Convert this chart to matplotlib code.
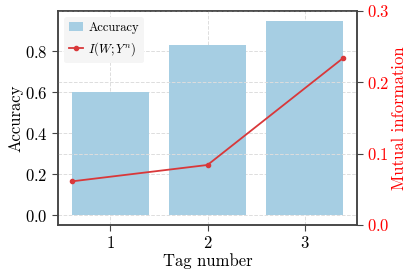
import numpy as np
import matplotlib
matplotlib.use("Agg")
import matplotlib.pyplot as plt

plt.rcParams['font.family'] = 'serif'
plt.rcParams['font.serif'] = ['cmr10']
plt.rcParams['mathtext.fontset'] = 'cm'
plt.rcParams['axes.formatter.use_mathtext'] = True

# data
tags = [1, 2, 3]
accuracy = [0.60, 0.83, 0.95]
mi_x = [0.6, 2.0, 3.4]
mutual_info = [0.061, 0.084, 0.234]

fig = plt.figure(figsize=(4.15, 2.77), dpi=100)
ax = fig.add_axes([0.14, 0.188, 0.72, 0.773])
ax2 = ax.twinx()

ax.bar(tags, accuracy, width=0.8, color='#a6cee3', label='Accuracy', zorder=2)
ax2.plot(mi_x, mutual_info, color='#d9383a', marker='o', markersize=3,
         linewidth=1.3, label=r'$I(W;Y^n)$', zorder=3)

ax.set_xticks(tags)
ax.set_ylim(-0.0475, 0.9975)
ax.set_yticks([0.0, 0.2, 0.4, 0.6, 0.8])
ax2.set_ylim(0, 0.3)
ax2.set_yticks([0.0, 0.1, 0.2, 0.3])

ax.grid(True, linestyle='--', color='#dddddd', linewidth=0.7, zorder=0)
ax2.grid(True, axis='y', linestyle='--', color='#dddddd', linewidth=0.7)
ax.set_axisbelow(True)
ax2.set_axisbelow(True)

ax.set_xlabel('Tag number', fontsize=12, labelpad=1)
ax.set_ylabel('Accuracy', fontsize=12, labelpad=1)
ax2.set_ylabel('Mutual information', fontsize=12, color='red', labelpad=1)

ax.tick_params(labelsize=12, color='#444444', direction='out', length=4)
ax2.tick_params(labelsize=12, colors='red', direction='out', length=4)
ax2.tick_params(axis='y', color='#444444')
for a in (ax, ax2):
    for s in a.spines.values():
        s.set_color('#444444')
        s.set_linewidth(1.1)

h1, l1 = ax.get_legend_handles_labels()
h2, l2 = ax2.get_legend_handles_labels()
leg = ax.legend(h1 + h2, l1 + l2, loc='upper left', fontsize=9,
                frameon=True, facecolor='#f5f5f5', edgecolor='none',
                framealpha=1.0, borderpad=0.4, handlelength=1.1,
                handletextpad=0.4)
leg.set_zorder(5)

fig.savefig('out.png', dpi=100)
